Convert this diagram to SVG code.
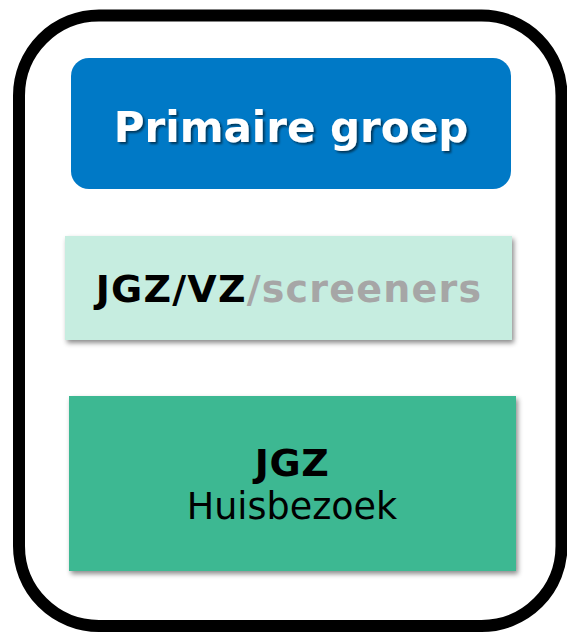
<svg xmlns="http://www.w3.org/2000/svg" width="567" height="633" viewBox="0 0 567 633">
<style>
text{font-family:"DejaVu Sans","Verdana",sans-serif;text-anchor:middle}
.b{font-weight:bold}
</style>
<defs>
<filter id="sh" x="-10%" y="-10%" width="125%" height="140%">
<feDropShadow dx="2" dy="3" stdDeviation="2.5" flood-color="#000" flood-opacity="0.45"/>
</filter>
<filter id="tsh" x="-10%" y="-20%" width="125%" height="150%">
<feDropShadow dx="2" dy="2" stdDeviation="1.2" flood-color="#000" flood-opacity="0.55"/>
</filter>
</defs>
<g id="frame">
<rect x="19" y="15.5" width="542.5" height="610.5" rx="80" ry="80" fill="#fff" stroke="#000" stroke-width="12"/>
</g>
<g id="primaire">
<rect x="71" y="58" width="440" height="131" rx="18" ry="18" fill="#0079C6"/>
<text class="b" x="291" y="142" font-size="42" fill="#fff" filter="url(#tsh)">Primaire groep</text>
</g>
<g id="jgzvz">
<rect x="65" y="236" width="447" height="104" fill="#C6EDE0" filter="url(#sh)"/>
<text class="b" x="289" y="302" font-size="38" letter-spacing="1.2"><tspan fill="#000">JGZ/VZ</tspan><tspan fill="#A6A6A6">/screeners</tspan></text>
</g>
<g id="jgz">
<rect x="69" y="396" width="447" height="175" fill="#3DB892" filter="url(#sh)"/>
<text class="b" x="292" y="476" font-size="38" letter-spacing="0.5" fill="#000">JGZ</text>
<text x="292" y="519" font-size="36.5" fill="#000">Huisbezoek</text>
</g>
<g id="connectors"/>
</svg>
